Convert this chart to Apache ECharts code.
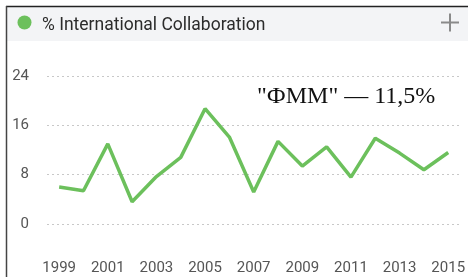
<!DOCTYPE html>
<html>
<head>
<meta charset="utf-8">
<script src="https://cdn.jsdelivr.net/npm/echarts@6/dist/echarts.min.js"></script>
<style>
html,body{margin:0;padding:0;background:#fff;}
#c{width:468px;height:277px;}
</style>
</head>
<body>
<div id="c"></div>
<script>
const years = ['1999','2000','2001','2002','2003','2004','2005','2006','2007','2008','2009','2010','2011','2012','2013','2014','2015'];
const collab = [6.0, 5.4, 13.0, 3.6, 7.7, 10.8, 18.7, 14.1, 5.2, 13.4, 9.4, 12.5, 7.6, 13.9, 11.5, 8.8, 11.6];
const yTicks = [0, 8, 16, 24];
const titleText = '% International Collaboration';
const noteText = '"ФММ" — 11,5%';

const chart = echarts.init(document.getElementById('c'), null, {renderer: 'canvas'});
chart.setOption({
  animation: false,
  backgroundColor: '#fff',
  title: {
    text: titleText,
    left: 37, top: 12,
    textStyle: {fontFamily: 'Roboto', fontSize: 17.5, fontWeight: 'normal', color: '#2b2b2b'}
  },
  graphic: [
    {type: 'rect', shape: {x: 6, y: 6, width: 462, height: 35}, style: {fill: '#f3f4f6'}, z: -10},
    {type: 'line', shape: {x1: 6, y1: 6.5, x2: 468, y2: 6.5}, style: {stroke: '#222', lineWidth: 1.5}},
    {type: 'line', shape: {x1: 6.5, y1: 6, x2: 6.5, y2: 277}, style: {stroke: '#444', lineWidth: 1.5}},
    {type: 'circle', shape: {cx: 24.5, cy: 22.5, r: 7}, style: {fill: '#6cc05c'}},
    {type: 'line', shape: {x1: 441, y1: 22.5, x2: 459, y2: 22.5}, style: {stroke: '#8a8a8a', lineWidth: 2}},
    {type: 'line', shape: {x1: 450, y1: 13.5, x2: 450, y2: 31.5}, style: {stroke: '#8a8a8a', lineWidth: 2}},
    {type: 'text', left: 257, top: 85, style: {text: noteText, font: '24px "Liberation Serif"', fill: '#111'}}
  ],
  grid: {left: 47, right: 5, top: 76, bottom: 53},
  xAxis: {
    type: 'category',
    data: years,
    boundaryGap: true,
    axisLine: {show: false},
    axisTick: {show: false},
    axisLabel: {interval: 1, margin: 37, fontFamily: 'Roboto', fontSize: 15, color: '#555'}
  },
  yAxis: {
    type: 'value',
    min: yTicks[0], max: yTicks[yTicks.length - 1], interval: 8,
    axisLabel: {margin: 18, fontFamily: 'Roboto', fontSize: 15, color: '#555'},
    splitLine: {lineStyle: {color: '#c8c8c8', type: [2, 3], width: 1}}
  },
  series: [{
    type: 'line',
    data: collab,
    symbol: 'none',
    lineStyle: {color: '#6cc05c', width: 3.5},
    itemStyle: {color: '#6cc05c'}
  }]
});
</script>
</body>
</html>
